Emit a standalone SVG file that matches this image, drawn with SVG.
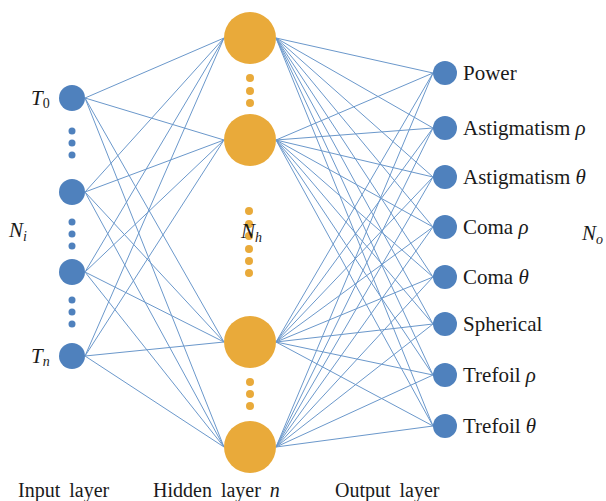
<svg xmlns="http://www.w3.org/2000/svg" width="606" height="501" viewBox="0 0 606 501">
<style>
.in{fill:#4f81bd}
.hd{fill:#e9aa3a}
.out{fill:#4f81bd}
.e{stroke:#6b98cb;stroke-width:1;fill:none}
.t{font-family:"Liberation Serif","Times New Roman",serif;fill:#1a1a1a}
.lab{font-size:21px}
.bot{font-size:20px;word-spacing:4px}
.m{font-style:italic;font-size:21px}
.s{font-style:italic;font-size:14px}
.su{font-style:normal;font-size:14px}
</style>
<rect width="606" height="501" fill="#fff"/>
<g id="connectors" class="e">
<path d="M85 98L224 38M85 98L224 140M85 98L224 342M85 98L224 447"/>
<path d="M85 192L224 38M85 192L224 140M85 192L224 342M85 192L224 447"/>
<path d="M85 272L224 38M85 272L224 140M85 272L224 342M85 272L224 447"/>
<path d="M85 356L224 38M85 356L224 140M85 356L224 342M85 356L224 447"/>
<path d="M276 38L433 73M276 38L433 128M276 38L433 177M276 38L433 227M276 38L433 277M276 38L433 324M276 38L433 375M276 38L433 426"/>
<path d="M276 140L433 73M276 140L433 128M276 140L433 177M276 140L433 227M276 140L433 277M276 140L433 324M276 140L433 375M276 140L433 426"/>
<path d="M276 342L433 73M276 342L433 128M276 342L433 177M276 342L433 227M276 342L433 277M276 342L433 324M276 342L433 375M276 342L433 426"/>
<path d="M276 447L433 73M276 447L433 128M276 447L433 177M276 447L433 227M276 447L433 277M276 447L433 324M276 447L433 375M276 447L433 426"/>
</g>
<g id="input-dots" class="in">
<circle cx="72" cy="131" r="3.5"/><circle cx="72" cy="143" r="3.5"/><circle cx="72" cy="155" r="3.5"/>
<circle cx="72" cy="222" r="3.5"/><circle cx="72" cy="234" r="3.5"/><circle cx="72" cy="246" r="3.5"/>
<circle cx="72" cy="300" r="3.5"/><circle cx="72" cy="312" r="3.5"/><circle cx="72" cy="324" r="3.5"/>
</g>
<g id="hidden-dots" class="hd">
<circle cx="250" cy="78" r="4"/><circle cx="250" cy="91" r="4"/><circle cx="250" cy="103" r="4"/>
<circle cx="249" cy="211" r="4"/><circle cx="249" cy="224" r="4"/><circle cx="249" cy="236" r="4"/><circle cx="249" cy="249" r="4"/><circle cx="249" cy="261" r="4"/><circle cx="249" cy="273" r="4"/>
<circle cx="250" cy="382" r="4"/><circle cx="250" cy="394" r="4"/><circle cx="250" cy="406" r="4"/>
</g>
<g id="in0"><circle class="in" cx="72" cy="98" r="13"/><text class="t" x="31" y="105"><tspan class="m">T</tspan><tspan class="su" dy="3">0</tspan></text></g>
<g id="in1"><circle class="in" cx="72" cy="192" r="13"/></g>
<g id="in2"><circle class="in" cx="72" cy="272" r="13"/></g>
<g id="in3"><circle class="in" cx="72" cy="356" r="13"/><text class="t" x="31" y="363"><tspan class="m">T</tspan><tspan class="s" dy="3">n</tspan></text></g>
<g id="h0"><circle class="hd" cx="250" cy="38" r="26"/></g>
<g id="h1"><circle class="hd" cx="250" cy="140" r="26"/></g>
<g id="h2"><circle class="hd" cx="250" cy="342" r="26"/></g>
<g id="h3"><circle class="hd" cx="250" cy="447" r="26"/></g>
<g id="o0"><circle class="out" cx="445" cy="73" r="12"/><text class="t lab" x="463" y="80">Power</text></g>
<g id="o1"><circle class="out" cx="445" cy="128" r="12"/><text class="t lab" x="463" y="135">Astigmatism <tspan font-style="italic">ρ</tspan></text></g>
<g id="o2"><circle class="out" cx="445" cy="177" r="12"/><text class="t lab" x="463" y="184">Astigmatism <tspan font-style="italic">θ</tspan></text></g>
<g id="o3"><circle class="out" cx="445" cy="227" r="12"/><text class="t lab" x="463" y="234">Coma <tspan font-style="italic">ρ</tspan></text></g>
<g id="o4"><circle class="out" cx="445" cy="277" r="12"/><text class="t lab" x="463" y="284">Coma <tspan font-style="italic">θ</tspan></text></g>
<g id="o5"><circle class="out" cx="445" cy="324" r="12"/><text class="t lab" x="463" y="331">Spherical</text></g>
<g id="o6"><circle class="out" cx="445" cy="375" r="12"/><text class="t lab" x="463" y="382">Trefoil <tspan font-style="italic">ρ</tspan></text></g>
<g id="o7"><circle class="out" cx="445" cy="426" r="12"/><text class="t lab" x="463" y="433">Trefoil <tspan font-style="italic">θ</tspan></text></g>
<g id="labels">
<text class="t" x="9" y="237"><tspan class="m">N</tspan><tspan class="s" dy="4">i</tspan></text>
<text class="t" x="241" y="238"><tspan class="m">N</tspan><tspan class="s" dy="4">h</tspan></text>
<text class="t" x="582" y="240"><tspan class="m">N</tspan><tspan class="s" dy="4">o</tspan></text>
<text class="t bot" x="18" y="497">Input layer</text>
<text class="t bot" x="153" y="497">Hidden layer <tspan font-style="italic">n</tspan></text>
<text class="t bot" x="335" y="497">Output layer</text>
</g>
</svg>
